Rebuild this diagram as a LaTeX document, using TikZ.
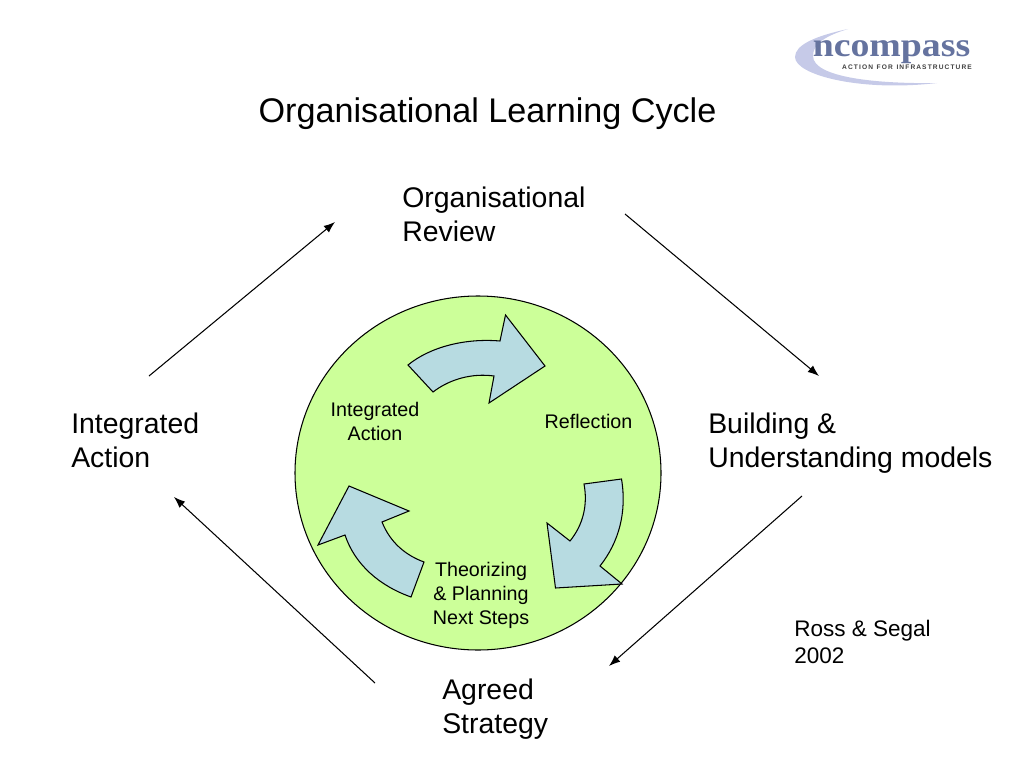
\documentclass[tikz,border=0pt]{standalone}
\usepackage{fontspec}
\setmainfont{Liberation Sans}
\newfontfamily\logofont{Liberation Serif}
\definecolor{discgreen}{HTML}{CCFF99}
\definecolor{arrowblue}{HTML}{B7DBE1}
\definecolor{logolav}{HTML}{C6CAE8}
\definecolor{logoink}{HTML}{65739F}
\tikzset{
	looparrow/.style={-{Latex[length=8pt,width=6pt]}, line width=0.75pt},
	turnarrow/.style={draw=black, line width=0.75pt, fill=arrowblue, line join=miter},
	bigtext/.style={anchor=west, align=left, inner sep=0pt, font=\fontsize{20.2}{24.2}\selectfont},
	disctext/.style={align=center, inner sep=0pt, font=\fontsize{14}{17}\selectfont},
}
\usetikzlibrary{arrows.meta}

\begin{document}
\begin{tikzpicture}[x=0.025cm, y=-0.025cm]
		%%%%% START %%%%%
		\useasboundingbox (0, 0) rectangle (1024, 768);

		% logo
		\fill[logolav] (848, 29) .. controls (815, 36) and (795, 45) .. (795, 57)
			.. controls (795, 75) and (860, 92) .. (937, 83)
			.. controls (880, 84) and (813, 78) .. (813, 56)
			.. controls (813, 44) and (825, 36) .. (848, 29) -- cycle;
		\node[logoink, inner sep=0pt, xscale=1.12, font=\logofont\bfseries\fontsize{24}{24}\selectfont] (logoname) at (891.5, 52) {ncompass};
		\node[black!75, inner sep=0pt, font=\bfseries\fontsize{4.7}{5}\selectfont] (logotag) at (907, 67) {A\,C\,T\,I\,O\,N\ \ F\,O\,R\ \ I\,N\,F\,R\,A\,S\,T\,R\,U\,C\,T\,U\,R\,E};

		\node[inner sep=0pt, font=\fontsize{24.3}{28}\selectfont] (title) at (487.5, 114) {Organisational Learning Cycle};

		% disc and the three turning arrows
		\draw[fill=discgreen, line width=0.75pt] (478, 473) ellipse (183 and 177);

		\draw[turnarrow] (408, 365) .. controls (430, 347) and (465, 338) .. (500, 341)
			-- (505.5, 315) -- (545, 366) -- (489, 403) -- (494, 376)
			.. controls (472, 373) and (450, 379) .. (433, 392) -- cycle;
		\draw[turnarrow] (621.5, 479) .. controls (627, 512) and (619, 542) .. (600, 566)
			-- (622, 584) -- (555.5, 588) -- (547, 523) -- (570, 541)
			.. controls (583, 525) and (588, 505) .. (584, 484) -- cycle;
		\draw[turnarrow] (424, 562) .. controls (405, 555) and (390, 542) .. (382, 522)
			-- (409, 511) -- (349, 486) -- (318, 545) -- (345, 535)
			.. controls (355, 565) and (380, 586) .. (411, 597) -- cycle;

		\node[disctext] (inneraction) at (375, 421.5) {Integrated\\Action};
		\node[disctext] (reflection) at (588.5, 421) {Reflection};
		\node[disctext] (planning) at (481, 595.5) {Theorizing\\\& Planning\\Next Steps};

		% outer labels
		\node[bigtext] (review) at (402, 214.5) {Organisational\\Review};
		\node[bigtext] (models) at (708, 443.5) {Building \&\\Understanding models};
		\node[bigtext] (strategy) at (442, 709.5) {Agreed\\Strategy};
		\node[bigtext] (action) at (71, 440.5) {Integrated\\Action};
		\node[anchor=west, align=left, inner sep=0pt, font=\fontsize{16}{19.3}\selectfont] (source) at (794, 642) {Ross \& Segal\\2002};

		% outer loop
		\coordinate (actionout) at (149, 376);
		\coordinate (reviewin) at (335, 222);
		\coordinate (reviewout) at (625, 214);
		\coordinate (modelsin) at (819, 376);
		\coordinate (modelsout) at (802, 496);
		\coordinate (strategyin) at (609, 666);
		\coordinate (strategyout) at (375, 683);
		\coordinate (actionin) at (174, 497);
		\draw[looparrow] (actionout) -- (reviewin);
		\draw[looparrow] (reviewout) -- (modelsin);
		\draw[looparrow] (modelsout) -- (strategyin);
		\draw[looparrow] (strategyout) -- (actionin);
		%%%%% END %%%%%
	\end{tikzpicture}
\end{document}
